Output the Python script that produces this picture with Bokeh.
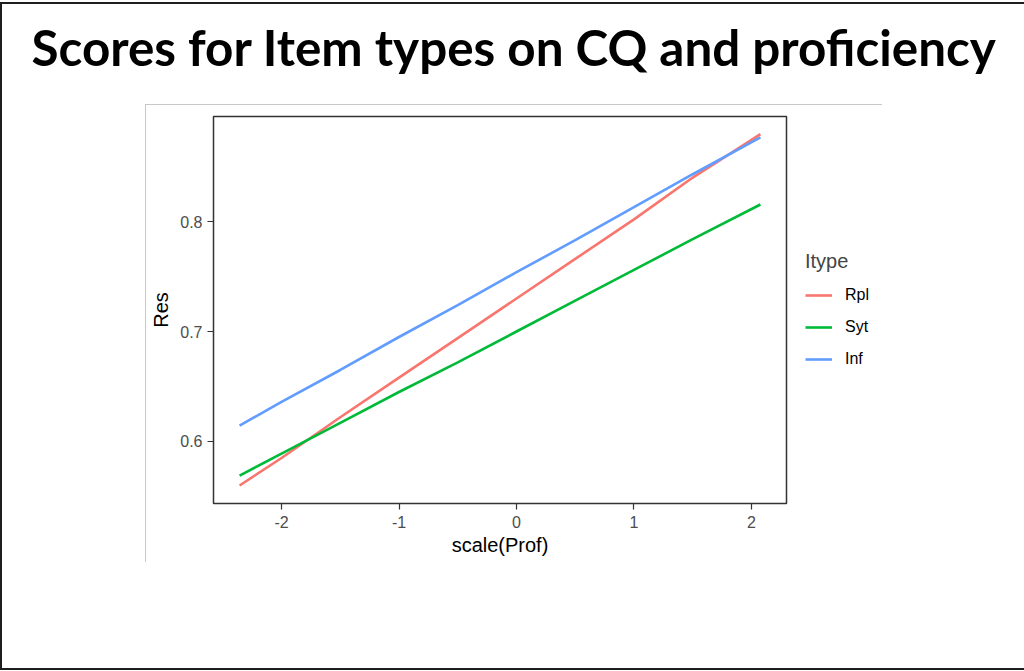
from bokeh.plotting import figure
from bokeh.models import Legend, LegendItem, FixedTicker, Range1d
from bokeh.embed import file_html
from bokeh.resources import INLINE

# ---- data ----
prof = [-2.357, -2.0, -1.5, -1.0, -0.5, 0.0, 0.5, 1.0, 1.5, 2.076]
rpl = [0.560, 0.585, 0.622, 0.658, 0.694, 0.730, 0.766, 0.802, 0.840, 0.8795]
syt = [0.569, 0.589, 0.617, 0.645, 0.672, 0.700, 0.728, 0.756, 0.784, 0.8155]
inf = [0.6145, 0.636, 0.665, 0.695, 0.724, 0.754, 0.783, 0.813, 0.843, 0.8766]
series_names = ["Rpl", "Syt", "Inf"]
series_colors = ["#F8766D", "#00BA38", "#619CFF"]
x_ticks = [-2, -1, 0, 1, 2]
x_tick_labels = ["-2", "-1", "0", "1", "2"]
y_ticks = [0.6, 0.7, 0.8]
title_text = "Scores for Item types on CQ and proficiency"
x_title = "scale(Prof)"
y_title = "Res"
legend_title = "Itype"

FONT = "Liberation Sans"
SHIFT = 29  # canvas is pulled up by this many pixels

bg = (f"linear-gradient(#1e1e1e,#1e1e1e) 0px {2 + SHIFT}px / 100% 2px no-repeat, "
      f"linear-gradient(#1e1e1e,#1e1e1e) 0px {2 + SHIFT}px / 2px 100% no-repeat, "
      f"linear-gradient(#1e1e1e,#1e1e1e) 0px {668 + SHIFT}px / 100% 2px no-repeat, "
      f"linear-gradient(#c8c8c8,#c8c8c8) 145px {104 + SHIFT}px / 737px 1px no-repeat, "
      f"linear-gradient(#c8c8c8,#c8c8c8) 145px {104 + SHIFT}px / 1px 458px no-repeat, "
      "white")

p = figure(frame_width=573, frame_height=387, output_backend="svg", toolbar_location=None,
           x_range=Range1d(-2.579, 2.298), y_range=Range1d(0.5436, 0.8955),
           min_border_left=213, min_border_right=236, min_border_top=116 + SHIFT,
           min_border_bottom=167,
           background_fill_color="white", border_fill_alpha=0,
           styles={"background": bg, "margin-top": f"-{SHIFT}px"})

p.xgrid.visible = False
p.ygrid.visible = False
p.outline_line_color = "#333333"
p.outline_line_width = 1.5

for ax, ticks, lab in ((p.xaxis[0], x_ticks, x_title), (p.yaxis[0], y_ticks, y_title)):
    ax.ticker = FixedTicker(ticks=ticks)
    ax.axis_line_color = None
    ax.major_tick_line_color = "#333333"
    ax.major_tick_line_width = 1.2
    ax.major_tick_in = 0
    ax.major_tick_out = 6
    ax.minor_tick_line_color = None
    ax.major_label_text_font = FONT
    ax.major_label_text_font_size = "16px"
    ax.major_label_text_color = "#4D4D4D"
    ax.axis_label = lab
    ax.axis_label_text_font = FONT
    ax.axis_label_text_font_size = "20px"
    ax.axis_label_text_font_style = "normal"
    ax.axis_label_text_color = "black"

p.xaxis[0].major_label_overrides = {t: s for t, s in zip(x_ticks, x_tick_labels)}
p.xaxis[0].major_label_standoff = 6
p.xaxis[0].axis_label_standoff = 3
p.yaxis[0].major_label_standoff = 5
p.yaxis[0].axis_label_standoff = 5

# slide title
p.title.text = title_text
p.title.text_font = "Lato"
p.title.text_font_style = "bold"
p.title.text_font_size = "49.4px"
p.title.text_color = "black"
p.title.align = "left"
p.title.offset = -182
p.title.standoff = 79

renderers = []
for ys, c in zip((rpl, syt, inf), series_colors):
    r = p.line(prof, ys, line_color=c, line_width=2.6)
    renderers.append(r)

legend = Legend(items=[LegendItem(label=n, renderers=[r]) for n, r in zip(series_names, renderers)],
                location=(19, 134), title=legend_title,
                title_text_font=FONT, title_text_font_size="20px", title_text_font_style="normal",
                label_text_font=FONT, label_text_font_size="16px", label_text_color="black",
                glyph_width=27, glyph_height=20, label_height=20, spacing=12,
                padding=0, margin=0, border_line_color=None, background_fill_alpha=0,
                title_standoff=12, label_standoff=13)
p.add_layout(legend, "right")

open("out.html", "w").write(file_html(p, INLINE))
